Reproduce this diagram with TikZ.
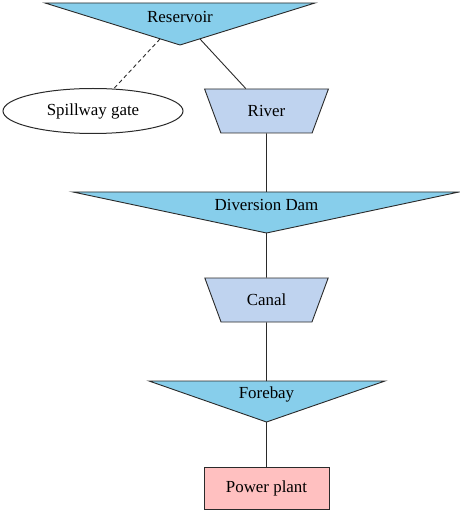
\documentclass[tikz,border=0pt]{standalone}
\usepackage{fontspec}
\setmainfont{Liberation Serif}
\definecolor{DamBlue}{HTML}{87CEEB}
\definecolor{FlowBlue}{HTML}{BFD3EF}
\definecolor{PlantPink}{HTML}{FFC0C0}
\definecolor{EdgeGray}{HTML}{2A2A2A}
\usetikzlibrary{shapes.geometric}
\tikzset{
	basin/.style={draw=EdgeGray, fill=DamBlue, line width=0.9pt, line join=miter},
	channel/.style={trapezium, shape border rotate=180, trapezium angle=59.4, trapezium stretches=true,
		minimum width=124pt, minimum height=44pt, draw=EdgeGray, fill=FlowBlue, line width=0.9pt, inner sep=0pt},
	caption/.style={inner sep=0pt, text=black},
	link/.style={draw=EdgeGray, line width=0.9pt}
}

\begin{document}
\begin{tikzpicture}[x=1pt, y=-1pt, every node/.style={font=\fontsize{16.9}{20}\selectfont}]
		\useasboundingbox (0,0) rectangle (459,510);
		
		% reservoir
		\draw[basin] (45,3) -- (315,3) -- (180,45) -- cycle;
		\node[caption] (res) at (180,17) {Reservoir};
		\coordinate (res-sw) at (160,39);
		\coordinate (res-se) at (200,39);
		
		\node[ellipse, draw=EdgeGray, line width=1pt, minimum width=180pt, minimum height=45pt] (gate) at (93,111) {Spillway gate};
		\node[channel] (river) at (266.5,111) {River};
		
		\draw[link, dashed, dash pattern=on 4pt off 3pt] (res-sw) -- (gate);
		\draw[link] (res-se) -- (river);
		
		% diversion dam
		\draw[basin] (73,192) coordinate (dam-w) -- (459,192) -- (266.5,233) coordinate (dam-apex) -- cycle;
		\node[caption] (dam) at (266.5,205) {Diversion Dam};
		\coordinate (dam-top) at (266.5,192);
		
		\node[channel] (canal) at (266.5,300) {Canal};
		
		% forebay
		\draw[basin] (149,381) -- (385,381) -- (266.5,422) coordinate (fore-apex) -- cycle;
		\node[caption] (fore) at (266.5,394) {Forebay};
		\coordinate (fore-top) at (266.5,381);
		
		\node[draw=EdgeGray, fill=PlantPink, line width=0.9pt, minimum width=125pt, minimum height=42pt] (plant) at (266.5,488) {Power plant};
		
		\draw[link] (river.south) -- (dam-top);
		\draw[link] (dam-apex) -- (canal.north);
		\draw[link] (canal.south) -- (fore-top);
		\draw[link] (fore-apex) -- (plant.north);
	\end{tikzpicture}
\end{document}
